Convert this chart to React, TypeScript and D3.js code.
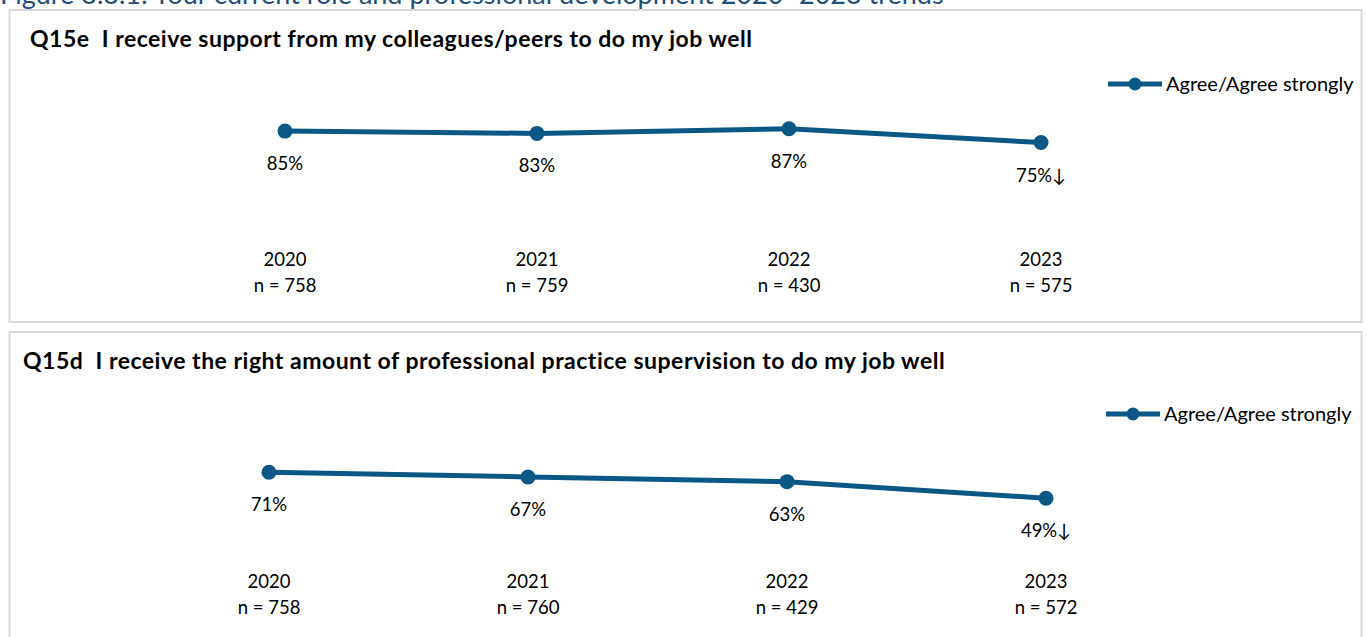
import React, { useEffect, useRef } from 'react';
import * as d3 from 'd3';

const figureTitle = 'Figure 3.3.1: Your current role and professional development 2020\u20132023 trends';
const years = ['2020', '2021', '2022', '2023'];
const legendLabel = 'Agree/Agree strongly';

const q15eTitle = 'Q15e\u00a0 I receive support from my colleagues/peers to do my job well';
const q15eValues = [85, 83, 87, 75];
const q15eN = [758, 759, 430, 575];
const q15eSigDown = [false, false, false, true];

const q15dTitle = 'Q15d\u00a0 I receive the right amount of professional practice supervision to do my job well';
const q15dValues = [71, 67, 63, 49];
const q15dN = [758, 760, 429, 572];
const q15dSigDown = [false, false, false, true];

const LINE = '#0b5785';
const FONT = 'Lato, "Open Sans", sans-serif';

type Panel = {
  title: string;
  values: number[];
  ns: number[];
  sig: boolean[];
  top: number;
  bottom: number;
  titleX: number;
  xRange: [number, number];
  yRange: [number, number];
  legendX: number;
  legendY: number;
};

const panels: Panel[] = [
  { title: q15eTitle, values: q15eValues, ns: q15eN, sig: q15eSigDown, top: 10, bottom: 322, titleX: 30,
    xRange: [285, 1041], yRange: [228, 114], legendX: 1108, legendY: 84 },
  { title: q15dTitle, values: q15dValues, ns: q15dN, sig: q15dSigDown, top: 332, bottom: 660, titleX: 23,
    xRange: [269, 1046], yRange: [556, 438], legendX: 1106, legendY: 414 },
];

export default function App() {
  const ref = useRef<SVGSVGElement>(null);
  useEffect(() => {
    const svg = d3.select(ref.current);
    svg.selectAll('*').remove();

    svg.append('text')
      .attr('x', 0).attr('y', 4)
      .attr('font-family', FONT).attr('font-size', 27)
      .attr('fill', '#1f4e79')
      .text(figureTitle);

    panels.forEach((p) => {
      const g = svg.append('g');
      g.append('rect')
        .attr('x', 9.5).attr('y', p.top)
        .attr('width', 1352).attr('height', p.bottom - p.top)
        .attr('fill', '#fff').attr('stroke', '#d9d9d9').attr('stroke-width', 2);

      g.append('text')
        .attr('x', p.titleX).attr('y', p.top + 37)
        .attr('font-family', FONT).attr('font-weight', 'bold').attr('font-size', 23)
        .attr('letter-spacing', 0.5)
        .attr('fill', '#000')
        .text(p.title);

      const x = d3.scalePoint<string>().domain(years).range(p.xRange);
      const y = d3.scaleLinear().domain([0, 100]).range(p.yRange);

      const line = d3.line<number>()
        .x((_, i) => x(years[i]) as number)
        .y((d) => y(d));

      g.append('path')
        .datum(p.values)
        .attr('d', line)
        .attr('fill', 'none')
        .attr('stroke', LINE)
        .attr('stroke-width', 5)
        .attr('stroke-linejoin', 'round');

      g.selectAll('circle.pt')
        .data(p.values)
        .join('circle')
        .attr('class', 'pt')
        .attr('cx', (_, i) => x(years[i]) as number)
        .attr('cy', (d) => y(d))
        .attr('r', 7.5)
        .attr('fill', LINE);

      g.selectAll('text.val')
        .data(p.values)
        .join('text')
        .attr('class', 'val')
        .attr('x', (_, i) => x(years[i]) as number)
        .attr('y', (d) => y(d) + 39)
        .attr('text-anchor', 'middle')
        .attr('font-family', FONT).attr('font-size', 18.5)
        .attr('fill', '#000')
        .text((d, i) => `${d}%${p.sig[i] ? '\u2193' : ''}`);

      years.forEach((yr, i) => {
        const t = g.append('text')
          .attr('x', x(yr) as number)
          .attr('text-anchor', 'middle')
          .attr('font-family', FONT).attr('font-size', 18.5)
          .attr('fill', '#000');
        t.append('tspan').attr('x', x(yr) as number).attr('y', p.top + 256).text(yr);
        t.append('tspan').attr('x', x(yr) as number).attr('y', p.top + 282).text(`n = ${p.ns[i]}`);
      });

      const lg = g.append('g');
      lg.append('line')
        .attr('x1', p.legendX).attr('x2', p.legendX + 54)
        .attr('y1', p.legendY).attr('y2', p.legendY)
        .attr('stroke', LINE).attr('stroke-width', 5);
      lg.append('circle')
        .attr('cx', p.legendX + 27).attr('cy', p.legendY).attr('r', 6.5)
        .attr('fill', LINE);
      lg.append('text')
        .attr('x', p.legendX + 58).attr('y', p.legendY + 7)
        .attr('font-family', FONT).attr('font-size', 20)
        .attr('fill', '#000')
        .text(legendLabel);
    });
  }, []);

  return (
    <svg
      ref={ref}
      width={1367}
      height={637}
      style={{ position: 'absolute', left: 0, top: 0, background: '#fff' }}
    />
  );
}
